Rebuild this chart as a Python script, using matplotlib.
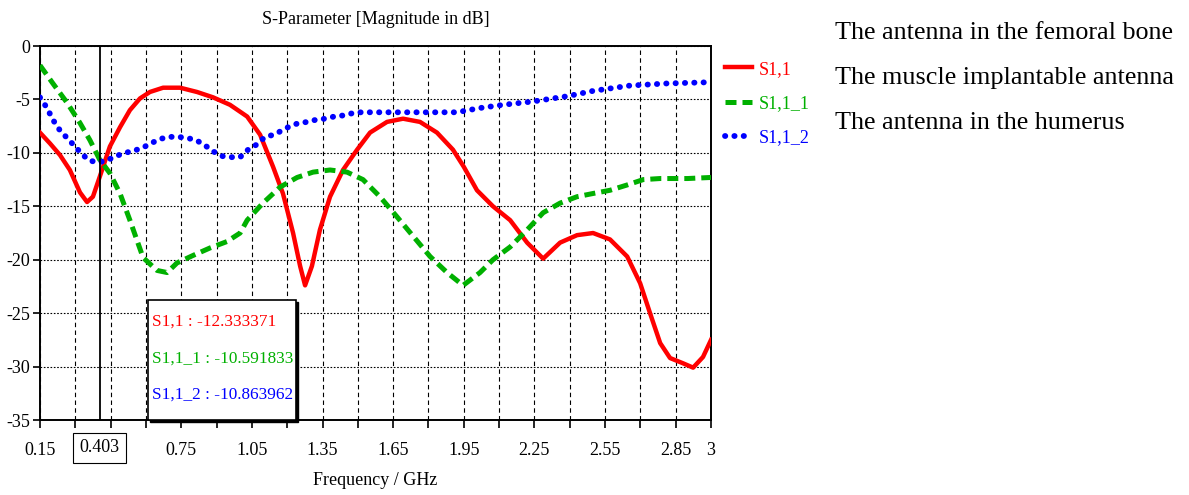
import matplotlib.pyplot as plt
from matplotlib.patches import Rectangle
import numpy as np

# S1,1 - antenna in the femoral bone
f_s11 = [0.15, 0.192, 0.235, 0.277, 0.32, 0.35, 0.375, 0.403, 0.447, 0.49, 0.532, 0.575,
         0.617, 0.673, 0.745, 0.817, 0.885, 0.957, 1.03, 1.085, 1.14, 1.182, 1.225,
         1.255, 1.276, 1.305, 1.339, 1.382, 1.437, 1.497, 1.552, 1.624, 1.692, 1.764,
         1.836, 1.904, 1.95, 2.006, 2.074, 2.147, 2.219, 2.287, 2.359, 2.431, 2.499,
         2.571, 2.644, 2.699, 2.741, 2.784, 2.826, 2.882, 2.924, 2.966, 3.0]
s11 = [-8.1, -9.1, -10.2, -11.6, -13.7, -14.6, -14.1, -12.3, -9.4, -7.6, -6.0, -4.9,
       -4.3, -3.9, -3.9, -4.3, -4.8, -5.5, -6.6, -8.3, -11.3, -13.8, -17.5,
       -20.6, -22.4, -20.6, -17.2, -14.1, -11.6, -9.7, -8.1, -7.1, -6.8, -7.1,
       -8.1, -9.7, -11.3, -13.5, -15.0, -16.3, -18.4, -19.9, -18.4, -17.7, -17.5,
       -18.1, -19.7, -22.2, -25.0, -27.8, -29.2, -29.7, -30.1, -29.1, -27.5]

# S1,1_1 - muscle implantable antenna
f_s11_1 = [0.15, 0.205, 0.265, 0.32, 0.362, 0.403, 0.447, 0.49, 0.532, 0.588, 0.647,
           0.69, 0.732, 0.8, 0.872, 0.944, 1.0, 1.03, 1.097, 1.17, 1.242, 1.31, 1.382,
           1.454, 1.522, 1.594, 1.667, 1.735, 1.807, 1.879, 1.947, 2.019, 2.074, 2.147,
           2.219, 2.287, 2.359, 2.431, 2.499, 2.571, 2.644, 2.712, 2.784, 2.9, 3.0]
s11_1 = [-1.8, -3.5, -5.3, -7.2, -8.8, -10.6, -11.9, -13.8, -16.3, -19.8, -21.0,
         -21.2, -20.3, -19.6, -18.9, -18.3, -17.5, -16.3, -14.7, -13.2, -12.3, -11.8, -11.6,
         -11.8, -12.5, -14.1, -16.0, -17.8, -19.7, -21.2, -22.4, -21.2, -20.0, -18.8,
         -17.2, -15.6, -14.7, -14.1, -13.8, -13.5, -13.0, -12.5, -12.4, -12.4, -12.3]

# S1,1_2 - antenna in the humerus
f_s11_2 = [0.15, 0.18, 0.205, 0.235, 0.265, 0.299, 0.328, 0.358, 0.396, 0.435, 0.473,
           0.511, 0.549, 0.588, 0.622, 0.66, 0.698, 0.736, 0.774, 0.813, 0.851, 0.889,
           0.923, 0.961, 1.0, 1.034, 1.072, 1.106, 1.144, 1.178, 1.212, 1.25, 1.288,
           1.322, 1.361, 1.399, 1.437, 1.475, 1.514, 1.594, 1.764, 1.921, 2.019, 2.117,
           2.24, 2.389, 2.499, 2.656, 2.814, 2.975, 3.0]
s11_2 = [-4.8, -5.8, -6.9, -7.9, -8.6, -9.4, -10.1, -10.7, -10.9, -10.7, -10.3,
         -10.0, -9.8, -9.5, -9.1, -8.7, -8.5, -8.5, -8.6, -8.8, -9.3, -9.9,
         -10.3, -10.4, -10.4, -9.7, -9.2, -8.5, -8.3, -7.9, -7.5, -7.2, -7.1,
         -6.9, -6.8, -6.6, -6.5, -6.3, -6.2, -6.2, -6.2, -6.2, -5.8, -5.5,
         -5.2, -4.7, -4.2, -3.7, -3.5, -3.4, -3.4]

marker_f = 0.403
marker_vals = ['S1,1 : -12.333371', 'S1,1_1 : -10.591833', 'S1,1_2 : -10.863962']
x_ticks = [0.15, 0.3, 0.45, 0.6, 0.75, 0.9, 1.05, 1.2, 1.35, 1.5, 1.65, 1.8, 1.95,
           2.1, 2.25, 2.4, 2.55, 2.7, 2.85, 3.0]
x_labels = ['0.15', '', '', '', '0.75', '', '1.05', '', '1.35', '', '1.65', '', '1.95',
            '', '2.25', '', '2.55', '', '2.85', '3']
notes = ['The antenna in the femoral bone', 'The muscle implantable antenna',
         'The antenna in the humerus']

plt.rcParams['font.family'] = ['Liberation Serif', 'DejaVu Serif']

fig = plt.figure(figsize=(11.89, 4.95), dpi=100)
ax = fig.add_axes([0.0336, 0.1515, 0.5644, 0.7555])

red, green, blue = '#ff0000', '#00b000', '#0000ff'
ax.plot(f_s11, s11, color=red, lw=3.2, label='S1,1', zorder=3)
ax.plot(f_s11_1, s11_1, color=green, lw=3.6, dashes=(2.2, 1.2), label='S1,1_1', zorder=3)
ax.plot(f_s11_2, s11_2, color=blue, lw=4.2, dashes=(0.05, 1.55),
        dash_capstyle='round', label='S1,1_2', zorder=3)

ax.axvline(marker_f, color='black', lw=1.3, zorder=4)

ax.set_xlim(0.15, 3.0)
ax.set_ylim(-35, 0)
ax.set_xticks(x_ticks)
ax.set_xticklabels(x_labels, fontsize=13)
ax.set_yticks(np.arange(-35, 1, 5))
ax.set_yticklabels([str(v) for v in range(-35, 1, 5)], fontsize=13)
ax.tick_params(axis='x', length=6, width=1.2, pad=10)
ax.tick_params(axis='y', length=5, width=1.2, pad=2)
for s in ax.spines.values():
    s.set_linewidth(1.4)

ax.xaxis.grid(True, color='black', lw=0.8, linestyle=(0, (4, 3)))
ax.yaxis.grid(True, color='black', lw=0.8, linestyle=(0, (1.5, 1.5)))
ax.set_axisbelow(True)

# marker tick label with box
ax.text(marker_f, -0.074, '0.403', transform=ax.get_xaxis_transform(), ha='center',
        va='center', fontsize=13,
        bbox=dict(boxstyle='square,pad=0.35', fc='white', ec='black', lw=0.8))

# marker readout box
ax.add_patch(Rectangle((0.164, -0.006), 0.221, 0.321, transform=ax.transAxes,
                       fc='black', ec='black', zorder=5, clip_on=False))
ax.add_patch(Rectangle((0.161, 0.0), 0.221, 0.321, transform=ax.transAxes,
                       fc='white', ec='black', lw=1.2, zorder=6))
for i, (txt, c) in enumerate(zip(marker_vals, [red, green, blue])):
    ax.text(0.167, 0.262 - i * 0.097, txt, transform=ax.transAxes, color=c,
            fontsize=12.4, va='center', ha='left', zorder=7)

ax.set_title('S-Parameter [Magnitude in dB]', fontsize=13, pad=16)
ax.set_xlabel('Frequency / GHz', fontsize=13, labelpad=9)

leg = ax.legend(loc='upper left', bbox_to_anchor=(1.01, 0.98), frameon=False,
                fontsize=13, handlelength=1.5, handletextpad=0.35, labelspacing=0.95,
                borderaxespad=0, labelcolor='linecolor')

for i, n in enumerate(notes):
    fig.text(0.702, 0.934 - i * 0.091, n, fontsize=18.8, va='center', ha='left')

fig.savefig('out.png', dpi=100)
